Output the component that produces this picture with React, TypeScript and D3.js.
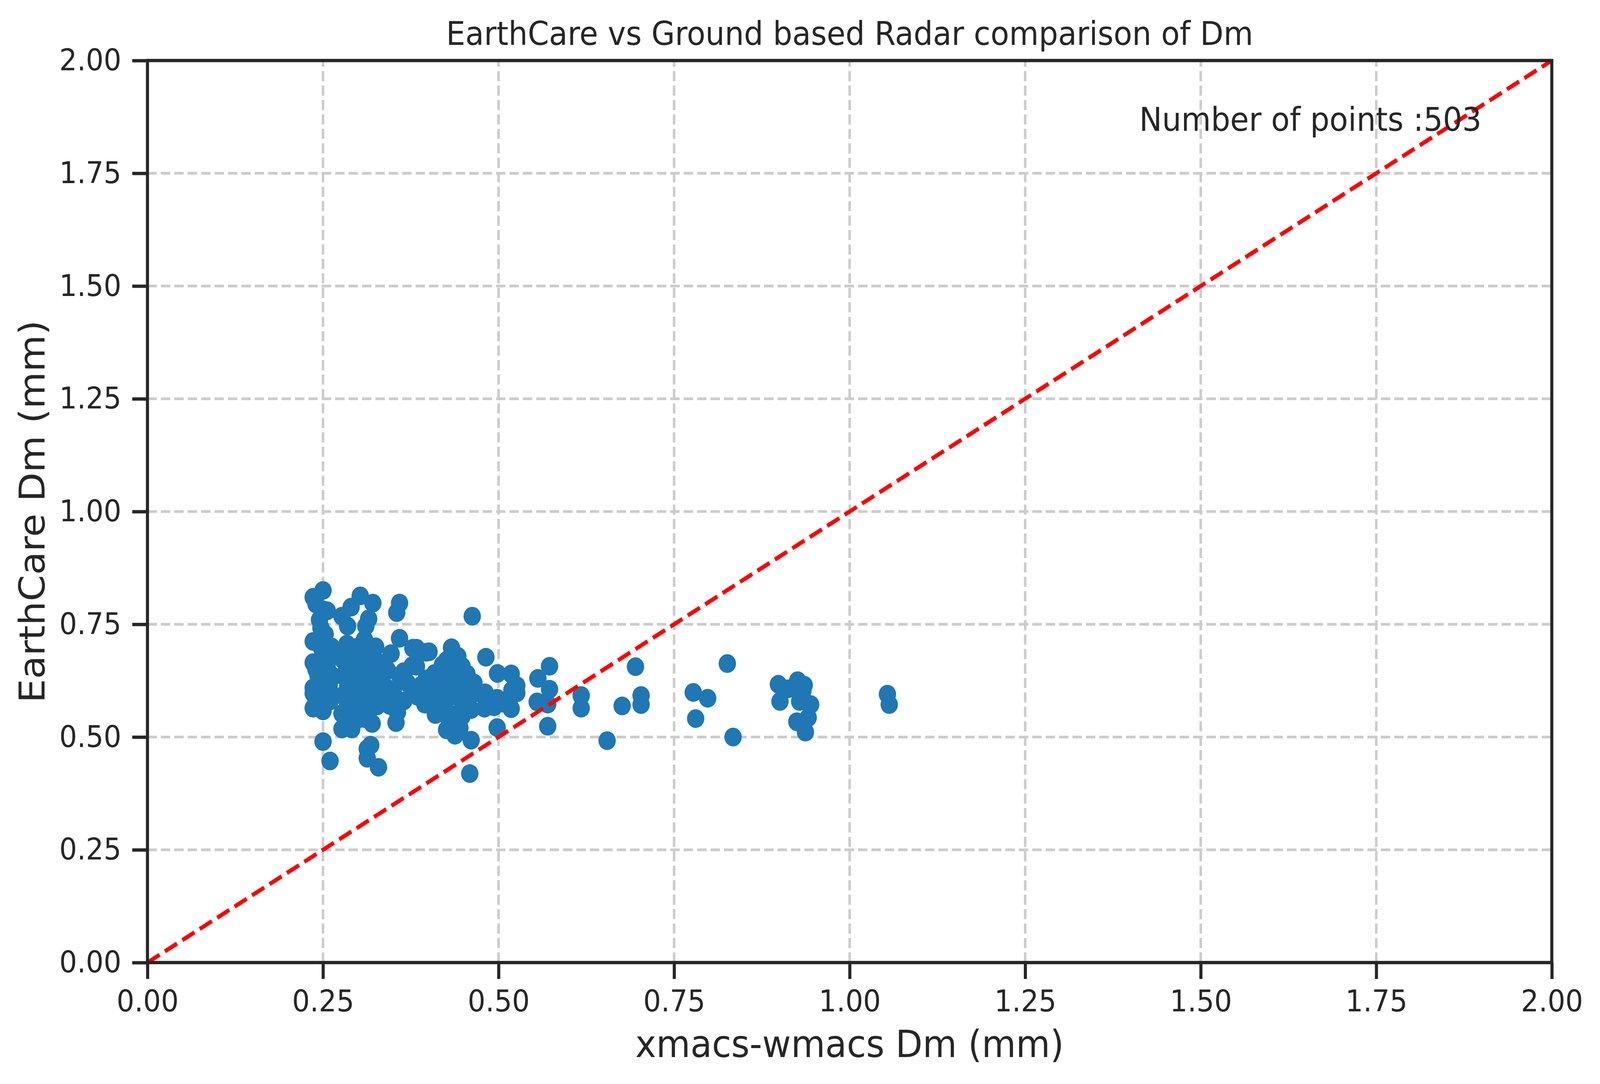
import { useRef, useEffect } from "react";
import * as d3 from "d3";

// xmacs-wmacs Dm (mm)
const xmacsDm = [
  // left cluster (x 0.23 - 0.40)
  0.236, 0.25, 0.25, 0.256, 0.277, 0.29, 0.303, 0.321, 0.315, 0.359, 0.355,
  0.247, 0.253, 0.236, 0.285, 0.311, 0.309, 0.284, 0.28, 0.25, 0.256, 0.236,
  0.243, 0.236, 0.236, 0.253, 0.236, 0.25, 0.359, 0.347, 0.378, 0.397, 0.377,
  0.328, 0.342, 0.359, 0.397, 0.378, 0.395, 0.356, 0.354, 0.327, 0.309, 0.291,
  0.277, 0.277, 0.278, 0.278, 0.278, 0.295, 0.309, 0.295, 0.315, 0.25, 0.26,
  0.318, 0.313, 0.313, 0.329, 0.337, 0.256, 0.259, 0.248,
  0.285, 0.3, 0.315, 0.33, 0.285, 0.3, 0.315, 0.33, 0.285, 0.3, 0.315, 0.33,
  0.29, 0.3, 0.315, 0.325, 0.3, 0.29, 0.345, 0.35, 0.365, 0.37, 0.385, 0.39,
  0.365, 0.34, 0.32, 0.295, 0.305, 0.26, 0.245, 0.24, 0.255, 0.26, 0.24,
  0.262, 0.25, 0.245, 0.24,
  // middle cluster (x 0.38 - 0.58)
  0.4625, 0.433, 0.401, 0.383, 0.482, 0.4985, 0.518, 0.526, 0.519, 0.5726,
  0.556, 0.5726, 0.555, 0.57, 0.57, 0.498, 0.518, 0.498, 0.481, 0.469, 0.461,
  0.438, 0.426, 0.459, 0.397, 0.409, 0.397, 0.383, 0.442, 0.448, 0.452, 0.454,
  0.426, 0.426, 0.435, 0.426, 0.448, 0.448, 0.461, 0.419, 0.411, 0.405, 0.383,
  0.48, 0.4935, 0.507, 0.526,
  0.41, 0.425, 0.44, 0.455, 0.41, 0.44, 0.455, 0.425, 0.44, 0.43, 0.445, 0.415,
  0.455, 0.465, 0.43, 0.42, 0.435,
  // sparse points (x > 0.6)
  0.6177, 0.6177, 0.695, 0.676, 0.703, 0.703, 0.6546, 0.7773, 0.7978, 0.7807,
  0.8258, 0.834, 0.8985, 0.9123, 0.926, 0.9353, 0.9008, 0.9288, 0.9445, 0.941,
  0.9248, 0.937, 1.0538, 1.0564, 0.9335,
];

// EarthCare Dm (mm), same order
const earthcareDm = [
  0.81, 0.825, 0.782, 0.78, 0.768, 0.788, 0.813, 0.797, 0.762, 0.797, 0.776,
  0.742, 0.728, 0.712, 0.746, 0.746, 0.716, 0.706, 0.689, 0.685, 0.678, 0.665,
  0.635, 0.609, 0.597, 0.595, 0.564, 0.558, 0.719, 0.685, 0.697, 0.688, 0.658,
  0.666, 0.648, 0.636, 0.629, 0.598, 0.573, 0.555, 0.532, 0.569, 0.541, 0.518,
  0.518, 0.552, 0.592, 0.636, 0.672, 0.654, 0.623, 0.598, 0.583, 0.49, 0.447,
  0.482, 0.474, 0.453, 0.433, 0.604, 0.654, 0.616, 0.697,
  0.54, 0.54, 0.555, 0.58, 0.57, 0.57, 0.6, 0.62, 0.61, 0.63, 0.65, 0.655,
  0.69, 0.7, 0.68, 0.7, 0.66, 0.625, 0.57, 0.6, 0.58, 0.62, 0.59, 0.615,
  0.645, 0.61, 0.53, 0.56, 0.59, 0.58, 0.62, 0.65, 0.605, 0.64, 0.58,
  0.7, 0.715, 0.76, 0.795,
  0.768, 0.698, 0.689, 0.697, 0.677, 0.641, 0.64, 0.614, 0.604, 0.657,
  0.63, 0.606, 0.578, 0.573, 0.524, 0.521, 0.563, 0.586, 0.598, 0.598, 0.493,
  0.504, 0.516, 0.419, 0.58, 0.641, 0.623, 0.657, 0.679, 0.657, 0.641, 0.623,
  0.67, 0.623, 0.593, 0.555, 0.546, 0.579, 0.561, 0.593, 0.623, 0.593, 0.604,
  0.564, 0.567, 0.575, 0.598,
  0.55, 0.58, 0.61, 0.64, 0.61, 0.55, 0.58, 0.64, 0.635, 0.53, 0.52, 0.57,
  0.6, 0.62, 0.61, 0.66, 0.66,
  0.592, 0.564, 0.656, 0.569, 0.592, 0.572, 0.492, 0.599, 0.586, 0.541,
  0.663, 0.5, 0.617, 0.607, 0.625, 0.615, 0.579, 0.579, 0.572, 0.543,
  0.534, 0.511, 0.595, 0.572, 0.602,
];

const tickValues = [0, 0.25, 0.5, 0.75, 1, 1.25, 1.5, 1.75, 2];
const tickLabels = ["0.00", "0.25", "0.50", "0.75", "1.00", "1.25", "1.50", "1.75", "2.00"];
const pointCount = 503;

const W = 4416;
const H = 2776;
const INK = "#262626";
const FONT = "DejaVu Sans";

const App = () => {
  const svgRef = useRef<SVGSVGElement>(null);

  useEffect(() => {
    // page: no margin, no scrollbars
    document.body.style.margin = "0";
    document.body.style.overflow = "hidden";

    const svg = d3.select(svgRef.current);
    svg.selectAll("*").remove();

    const x = d3.scaleLinear().domain([0, 2]).range([407, 4283]);
    const y = d3.scaleLinear().domain([0, 2]).range([2465, 155]);

    svg.append("rect").attr("width", W).attr("height", H).attr("fill", "#ffffff");

    // grid (under everything)
    const grid = svg
      .append("g")
      .attr("stroke", "#cccccc")
      .attr("stroke-width", 7)
      .attr("stroke-dasharray", "26 11");
    grid
      .selectAll("line.gv")
      .data(tickValues.slice(1, -1))
      .join("line")
      .attr("class", "gv")
      .attr("x1", (d) => x(d))
      .attr("x2", (d) => x(d))
      .attr("y1", y(0))
      .attr("y2", y(2));
    grid
      .selectAll("line.gh")
      .data(tickValues.slice(1, -1))
      .join("line")
      .attr("class", "gh")
      .attr("x1", x(0))
      .attr("x2", x(2))
      .attr("y1", (d) => y(d))
      .attr("y2", (d) => y(d));

    // scatter
    svg
      .append("g")
      .selectAll("circle")
      .data(d3.range(xmacsDm.length))
      .join("circle")
      .attr("cx", (i) => x(xmacsDm[i]))
      .attr("cy", (i) => y(earthcareDm[i]))
      .attr("r", 24)
      .attr("fill", "#1f77b4");

    // 1:1 line
    svg
      .append("line")
      .attr("x1", x(0))
      .attr("y1", y(0))
      .attr("x2", x(2))
      .attr("y2", y(2))
      .attr("stroke", "#ff0000")
      .attr("stroke-width", 10.6)
      .attr("stroke-dasharray", "39 17");

    // spines
    svg
      .append("rect")
      .attr("x", x(0))
      .attr("y", y(2))
      .attr("width", x(2) - x(0))
      .attr("height", y(0) - y(2))
      .attr("fill", "none")
      .attr("stroke", INK)
      .attr("stroke-width", 8.5);

    // axes
    const xAxis = d3
      .axisBottom(x)
      .tickValues(tickValues)
      .tickFormat((_, i) => tickLabels[i])
      .tickSize(42)
      .tickSizeOuter(0)
      .tickPadding(28);
    const gx = svg.append("g").attr("transform", `translate(0,${y(0)})`).call(xAxis);
    gx.select(".domain").remove();
    gx.attr("font-family", FONT).attr("font-size", 77);
    gx.selectAll("line").attr("stroke", INK).attr("stroke-width", 8.5);
    gx.selectAll("text").attr("fill", INK);

    const yAxis = d3
      .axisLeft(y)
      .tickValues(tickValues)
      .tickFormat((_, i) => tickLabels[i])
      .tickSize(42)
      .tickSizeOuter(0)
      .tickPadding(30);
    const gy = svg.append("g").attr("transform", `translate(${x(0)},0)`).call(yAxis);
    gy.select(".domain").remove();
    gy.attr("font-family", FONT).attr("font-size", 77);
    gy.selectAll("line").attr("stroke", INK).attr("stroke-width", 8.5);
    gy.selectAll("text").attr("fill", INK);

    // texts
    const txt = svg.append("g").attr("font-family", FONT).attr("fill", INK);
    txt
      .append("text")
      .attr("x", (x(0) + x(2)) / 2)
      .attr("y", 115)
      .attr("text-anchor", "middle")
      .attr("font-size", 84)
      .text("EarthCare vs Ground based Radar comparison of Dm");
    txt
      .append("text")
      .attr("x", (x(0) + x(2)) / 2)
      .attr("y", 2707)
      .attr("text-anchor", "middle")
      .attr("font-size", 97)
      .text("xmacs-wmacs Dm (mm)");
    txt
      .append("text")
      .attr("transform", `translate(123,${(y(0) + y(2)) / 2}) rotate(-90)`)
      .attr("text-anchor", "middle")
      .attr("font-size", 97)
      .text("EarthCare Dm (mm)");
    txt
      .append("text")
      .attr("x", x(0) + 0.95 * (x(2) - x(0)))
      .attr("y", 335)
      .attr("text-anchor", "end")
      .attr("font-size", 84)
      .text(`Number of points :${pointCount}`);

    return () => {
      svg.selectAll("*").remove();
    };
  }, []);

  return (
    <svg
      ref={svgRef}
      viewBox={`0 0 ${W} ${H}`}
      preserveAspectRatio="none"
      style={{
        position: "fixed",
        left: 0,
        top: 0,
        width: "100vw",
        height: "100vh",
        display: "block",
      }}
    ></svg>
  );
};

export default App;
